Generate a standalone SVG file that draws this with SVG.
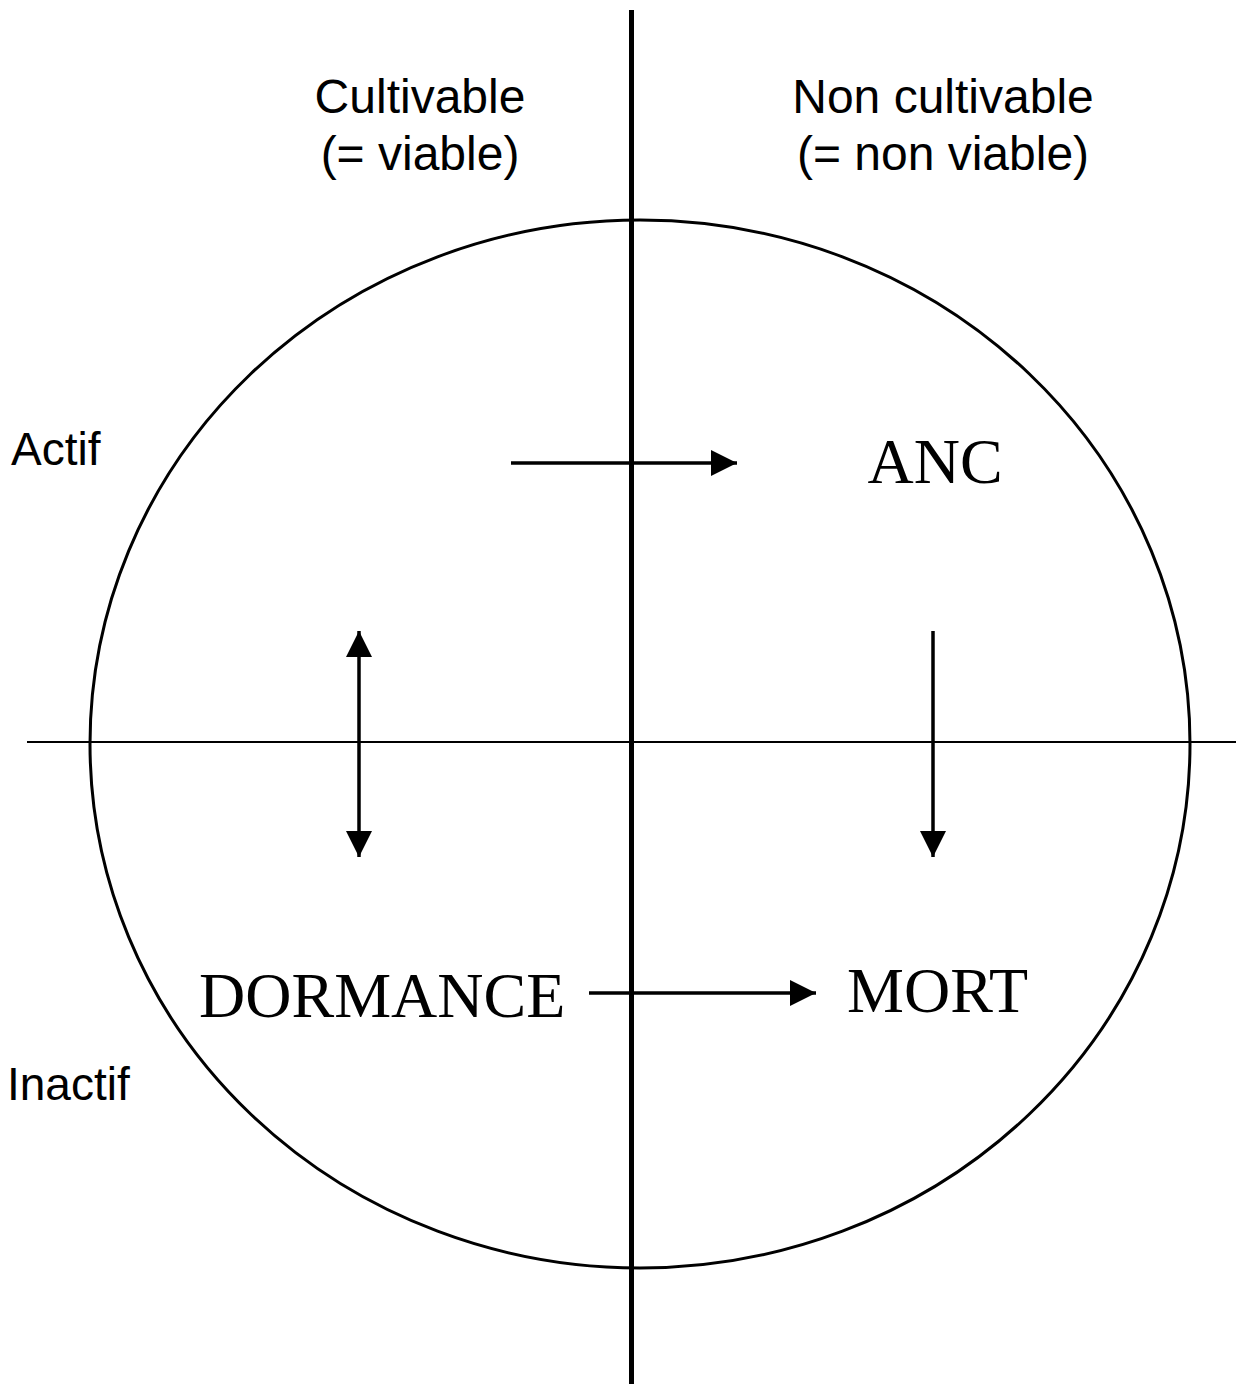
<svg xmlns="http://www.w3.org/2000/svg" width="1236" height="1384" viewBox="0 0 1236 1384">
<style>
.sans{font-family:"Liberation Sans",Arial,sans-serif;font-size:48px;fill:#000}
.side{font-size:46px}
.serif{font-family:"Liberation Serif","Times New Roman",serif;font-size:64px;fill:#000}
.arr{stroke:#000;stroke-width:3.5;fill:none}
</style>
<defs>
<marker id="ah" markerWidth="26" markerHeight="26" viewBox="0 0 26 26" refX="26" refY="13" orient="auto-start-reverse" markerUnits="userSpaceOnUse">
<path d="M0,0 L26,13 L0,26 Z" fill="#000"/>
</marker>
</defs>
<rect width="1236" height="1384" fill="#fff"/>
<g id="frame">
<ellipse cx="640" cy="744" rx="550" ry="524" fill="none" stroke="#000" stroke-width="3"/>
<line x1="27" y1="742" x2="1236" y2="742" stroke="#000" stroke-width="2"/>
<line x1="631.5" y1="10" x2="631.5" y2="1384" stroke="#000" stroke-width="5"/>
</g>
<g id="labels">
<text class="sans" x="420" y="113" text-anchor="middle">Cultivable</text>
<text class="sans" x="420" y="170" text-anchor="middle">(= viable)</text>
<text class="sans" x="943" y="113" text-anchor="middle">Non cultivable</text>
<text class="sans" x="943" y="170" text-anchor="middle">(= non viable)</text>
<text class="sans side" x="11" y="465">Actif</text>
<text class="sans side" x="7" y="1100">Inactif</text>
</g>
<g id="node-anc"><text class="serif" x="935" y="483" text-anchor="middle">ANC</text></g>
<g id="node-dormance"><text class="serif" x="199" y="1017">DORMANCE</text></g>
<g id="node-mort"><text class="serif" x="847" y="1012">MORT</text></g>
<g id="connectors">
<line class="arr" x1="511" y1="463" x2="737" y2="463" marker-end="url(#ah)"/>
<line class="arr" x1="359" y1="631" x2="359" y2="857" marker-start="url(#ah)" marker-end="url(#ah)"/>
<line class="arr" x1="933" y1="631" x2="933" y2="857" marker-end="url(#ah)"/>
<line class="arr" x1="589" y1="993" x2="816" y2="993" marker-end="url(#ah)"/>
</g>
</svg>
